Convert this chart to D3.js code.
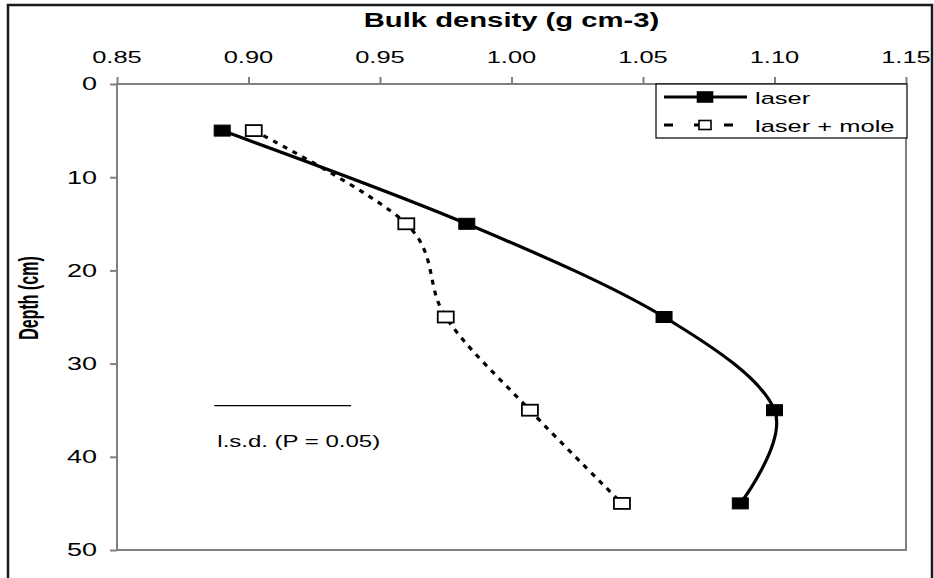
<!DOCTYPE html>
<html>
<head>
<meta charset="utf-8">
<script src="https://cdn.jsdelivr.net/npm/d3@7"></script>
<style>
  html, body { margin: 0; padding: 0; background: #fff; }
  svg { display: block; }
  text { font-family: "Liberation Sans", Arial, sans-serif; fill: #000; }
</style>
</head>
<body>
<svg id="chart" width="934" height="578"></svg>
<script>
// Depth of each sampling layer (cm)
const depths = [5, 15, 25, 35, 45];
// Bulk density (g cm-3) per treatment
const laser = [0.890, 0.983, 1.058, 1.100, 1.087];
const laserMole = [0.902, 0.960, 0.975, 1.007, 1.042];
const seriesNames = ["laser", "laser + mole"];
// Axis ticks
const xTicks = [0.85, 0.90, 0.95, 1.00, 1.05, 1.10, 1.15];
const yTicks = [0, 10, 20, 30, 40, 50];
// Least significant difference bar
const lsdValue = 0.052;
const lsdStart = 0.887;
const lsdDepth = 34.5;
const lsdLabel = "l.s.d. (P = 0.05)";

const SX = 1.5; // horizontal text stretch
const plot = { left: 117, right: 906, top: 84, bottom: 550 };

const svg = d3.select("#chart");

const x = d3.scaleLinear().domain([0.85, 1.15]).range([plot.left, plot.right]);
const y = d3.scaleLinear().domain([0, 50]).range([plot.top, plot.bottom]);

function label(g, tx, ty, str, opts = {}) {
  const sx = opts.sx || SX;
  const t = g.append("text")
    .attr("transform", `translate(${tx},${ty}) scale(${sx},1)` + (opts.rotate ? ` rotate(${opts.rotate})` : ""))
    .attr("text-anchor", opts.anchor || "start")
    .style("font-size", (opts.size || 17) + "px")
    .style("font-weight", opts.bold ? "bold" : "normal")
    .text(str);
  if (opts.dy) t.attr("dy", opts.dy);
  return t;
}

// Outer frame
svg.append("rect")
  .attr("x", 8).attr("y", 5).attr("width", 924).attr("height", 620)
  .attr("fill", "none").attr("stroke", "#1a1a1a").attr("stroke-width", 2.5);

// Plot area frame
svg.append("rect")
  .attr("x", plot.left).attr("y", plot.top)
  .attr("width", plot.right - plot.left).attr("height", plot.bottom - plot.top)
  .attr("fill", "none").attr("stroke", "#808080").attr("stroke-width", 2);

// Top x axis
const xAxis = svg.append("g").attr("transform", `translate(0,${plot.top})`)
  .call(d3.axisTop(x).tickValues(xTicks).tickSize(7).tickFormat(""));
xAxis.select(".domain").remove();
xAxis.selectAll(".tick line").attr("stroke", "#808080").attr("stroke-width", 2);
xTicks.forEach(v => label(svg, x(v), 63, d3.format(".2f")(v), { anchor: "middle", size: 17 }));

// Left y axis
const yAxis = svg.append("g").attr("transform", `translate(${plot.left},0)`)
  .call(d3.axisLeft(y).tickValues(yTicks).tickSize(7).tickFormat(""));
yAxis.select(".domain").remove();
yAxis.selectAll(".tick line").attr("stroke", "#808080").attr("stroke-width", 2);
yTicks.forEach(v => label(svg, 97, y(v), String(v), { anchor: "end", size: 18, dy: "0.35em" }));

// Axis titles
label(svg, (plot.left + plot.right) / 2, 27, "Bulk density (g cm-3)", { anchor: "middle", size: 19.5, bold: true });
label(svg, 38, 298, "Depth (cm)", { anchor: "middle", size: 16, bold: true, rotate: -90, sx: 1.7 });

// Series
const rows = depths.map((d, i) => ({ depth: d, laser: laser[i], mole: laserMole[i] }));
const line = key => d3.line()
  .x(d => x(d[key])).y(d => y(d.depth))
  .curve(d3.curveCardinal.tension(0));

svg.append("path").datum(rows)
  .attr("d", line("mole"))
  .attr("fill", "none").attr("stroke", "#000").attr("stroke-width", 3.2)
  .attr("stroke-dasharray", "5,6");

svg.append("path").datum(rows)
  .attr("d", line("laser"))
  .attr("fill", "none").attr("stroke", "#000").attr("stroke-width", 3.2);

const mw = 16, mh = 11;
svg.selectAll("rect.mole").data(rows).join("rect").attr("class", "mole")
  .attr("x", d => x(d.mole) - mw / 2).attr("y", d => y(d.depth) - mh / 2)
  .attr("width", mw).attr("height", mh)
  .attr("fill", "#fff").attr("stroke", "#000").attr("stroke-width", 1.8);

svg.selectAll("rect.laser").data(rows).join("rect").attr("class", "laser")
  .attr("x", d => x(d.laser) - mw / 2).attr("y", d => y(d.depth) - mh / 2)
  .attr("width", mw).attr("height", mh)
  .attr("fill", "#000").attr("stroke", "#000").attr("stroke-width", 1);

// l.s.d. bar
svg.append("line")
  .attr("x1", x(lsdStart)).attr("x2", x(lsdStart + lsdValue))
  .attr("y1", y(lsdDepth)).attr("y2", y(lsdDepth))
  .attr("stroke", "#000").attr("stroke-width", 1.3);
label(svg, x(lsdStart) + 3, y(lsdDepth) + 41, lsdLabel, { size: 16 });

// Legend
const lg = svg.append("g");
lg.append("rect")
  .attr("x", 656).attr("y", 84).attr("width", 251).attr("height", 54)
  .attr("fill", "#fff").attr("stroke", "#000").attr("stroke-width", 1.2);
const legendRows = [
  { name: seriesNames[0], cy: 97, dash: null, fill: "#000", w: 15, h: 10 },
  { name: seriesNames[1], cy: 125, dash: "9,21", fill: "#fff", w: 12, h: 9 }
];
legendRows.forEach(r => {
  lg.append("line").attr("x1", 664).attr("x2", 747).attr("y1", r.cy).attr("y2", r.cy)
    .attr("stroke", "#000").attr("stroke-width", 3)
    .attr("stroke-dasharray", r.dash);
  lg.append("rect").attr("x", 705 - r.w / 2).attr("y", r.cy - r.h / 2)
    .attr("width", r.w).attr("height", r.h)
    .attr("fill", r.fill).attr("stroke", "#000").attr("stroke-width", 1.6);
  label(lg, 755, r.cy + 7, r.name, { size: 17 });
});
</script>
</body>
</html>
